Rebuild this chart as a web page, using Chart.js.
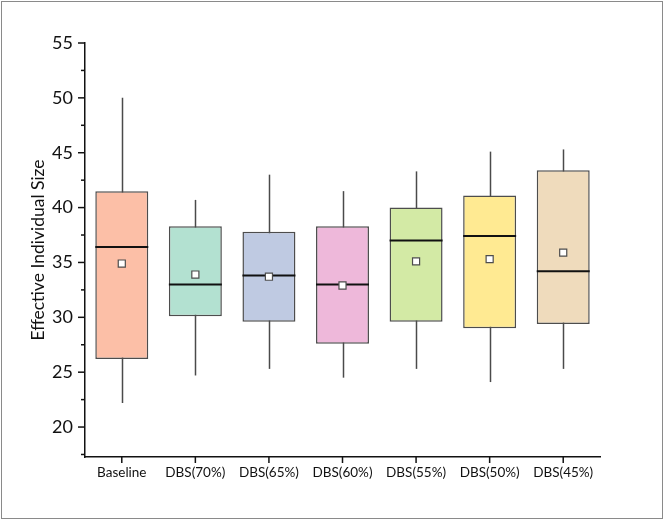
<!DOCTYPE html>
<html>
<head>
<meta charset="utf-8">
<script src="https://cdn.jsdelivr.net/npm/chart.js@4/dist/chart.umd.min.js"></script>
<style>
  html, body { margin: 0; padding: 0; background: #fff; }
  #wrap { position: relative; width: 664px; height: 520px; }
  #frame { position: absolute; left: 1px; top: 1px; width: 660px; height: 516px; border: 1px solid #8a8a8a; pointer-events: none; }
</style>
</head>
<body>
<div id="wrap">
  <canvas id="boxChart" width="664" height="520"></canvas>
  <div id="frame"></div>
</div>
<script>
// Box plot data
const groups = ['Baseline', 'DBS(70%)', 'DBS(65%)', 'DBS(60%)', 'DBS(55%)', 'DBS(50%)', 'DBS(45%)'];
const whiskerLow  = [22.2, 24.7, 25.3, 24.5, 25.3, 24.1, 25.3];
const q1Values    = [26.2, 30.1, 29.6, 27.6, 29.6, 29.0, 29.4];
const medians     = [36.4, 33.0, 33.8, 33.0, 37.0, 37.4, 34.2];
const q3Values    = [41.5, 38.3, 37.8, 38.3, 40.0, 41.1, 43.4];
const whiskerHigh = [50.0, 40.7, 43.0, 41.5, 43.3, 45.1, 45.3];
const means       = [34.9, 33.9, 33.7, 32.9, 35.1, 35.3, 35.9];
const boxColors   = ['#FCBFA7', '#B3E1D1', '#BFCAE2', '#EEB8DA', '#D3EAA5', '#FFEA92', '#EFDBBC'];
const yTicks      = [20, 25, 30, 35, 40, 45, 50, 55];
const yMinorTicks = [17.5, 22.5, 27.5, 32.5, 37.5, 42.5, 47.5, 52.5];

const FONT = 'Lato, "Open Sans", sans-serif';

// whiskers behind the boxes, medians on top of boxes, plus axis ticks
const boxPlotPlugin = {
    id: 'boxPlotExtras',
    beforeDatasetsDraw(chart) {
        const ctx = chart.ctx;
        const x = chart.scales.x, y = chart.scales.y;
        ctx.save();
        ctx.lineWidth = 1.5;
        ctx.strokeStyle = '#4a4a4a';
        groups.forEach((g, i) => {
            const px = Math.round(x.getPixelForValue(i)) + 0.5;
            ctx.beginPath();
            ctx.moveTo(px, y.getPixelForValue(whiskerLow[i]));
            ctx.lineTo(px, y.getPixelForValue(whiskerHigh[i]));
            ctx.stroke();
        });
        ctx.restore();
    },
    afterDatasetDraw(chart, args) {
        if (args.index !== 0) return;
        const ctx = chart.ctx;
        const y = chart.scales.y;
        const meta = chart.getDatasetMeta(0);
        ctx.save();
        ctx.lineWidth = 2;
        ctx.strokeStyle = '#111';
        meta.data.forEach((bar, i) => {
            const half = bar.width / 2;
            const py = y.getPixelForValue(medians[i]);
            ctx.beginPath();
            ctx.moveTo(bar.x - half, py);
            ctx.lineTo(bar.x + half, py);
            ctx.stroke();
        });
        ctx.restore();
    },
    afterDraw(chart) {
        const ctx = chart.ctx;
        const x = chart.scales.x, y = chart.scales.y;
        const area = chart.chartArea;
        ctx.save();
        ctx.strokeStyle = '#111';
        ctx.lineWidth = 1.5;
        yTicks.forEach(v => {
            const py = y.getPixelForValue(v);
            ctx.beginPath();
            ctx.moveTo(area.left - 7, py);
            ctx.lineTo(area.left, py);
            ctx.stroke();
        });
        yMinorTicks.forEach(v => {
            const py = y.getPixelForValue(v);
            ctx.beginPath();
            ctx.moveTo(area.left - 4, py);
            ctx.lineTo(area.left, py);
            ctx.stroke();
        });
        groups.forEach((g, i) => {
            const px = x.getPixelForValue(i);
            ctx.beginPath();
            ctx.moveTo(px, area.bottom);
            ctx.lineTo(px, area.bottom + 6);
            ctx.stroke();
        });
        ctx.restore();
    }
};

const ctx = document.getElementById('boxChart').getContext('2d');
const boxChart = new Chart(ctx, {
    type: 'bar',
    data: {
        labels: groups,
        datasets: [
            {
                label: 'IQR',
                data: groups.map((g, i) => [q1Values[i], q3Values[i]]),
                backgroundColor: boxColors,
                borderColor: '#4d4d4d',
                borderWidth: 1.5,
                borderSkipped: false,
                categoryPercentage: 1,
                barPercentage: 0.72,
                order: 2
            },
            {
                label: 'Mean',
                type: 'line',
                data: means,
                showLine: false,
                pointStyle: 'rect',
                pointRadius: 5,
                pointBackgroundColor: '#ffffff',
                pointBorderColor: '#4d4d4d',
                pointBorderWidth: 1.2,
                order: 1
            }
        ]
    },
    options: {
        responsive: false,
        animation: false,
        layout: {
            padding: { top: 43, right: 64, bottom: 0, left: 28 }
        },
        scales: {
            x: {
                offset: true,
                grid: { display: false, drawTicks: false },
                border: { display: true, color: '#111', width: 1.5 },
                ticks: {
                    color: '#111',
                    padding: 8,
                    maxRotation: 0,
                    font: { family: FONT, size: 13.5 }
                },
                afterFit: (scale) => { scale.height = 63; }
            },
            y: {
                min: 17.27,
                max: 55,
                grid: { display: false, drawTicks: false },
                border: { display: true, color: '#111', width: 1.5 },
                afterBuildTicks: (scale) => {
                    scale.ticks = yTicks.map(v => ({ value: v }));
                },
                ticks: {
                    color: '#111',
                    padding: 12,
                    font: { family: FONT, size: 18 }
                },
                title: {
                    display: true,
                    text: 'Effective Individual Size',
                    color: '#111',
                    padding: 0,
                    font: { family: FONT, size: 17.5 }
                },
                afterFit: (scale) => { scale.width = 57; }
            }
        },
        plugins: {
            legend: { display: false },
            tooltip: { enabled: false }
        }
    },
    plugins: [boxPlotPlugin]
});
</script>
</body>
</html>
